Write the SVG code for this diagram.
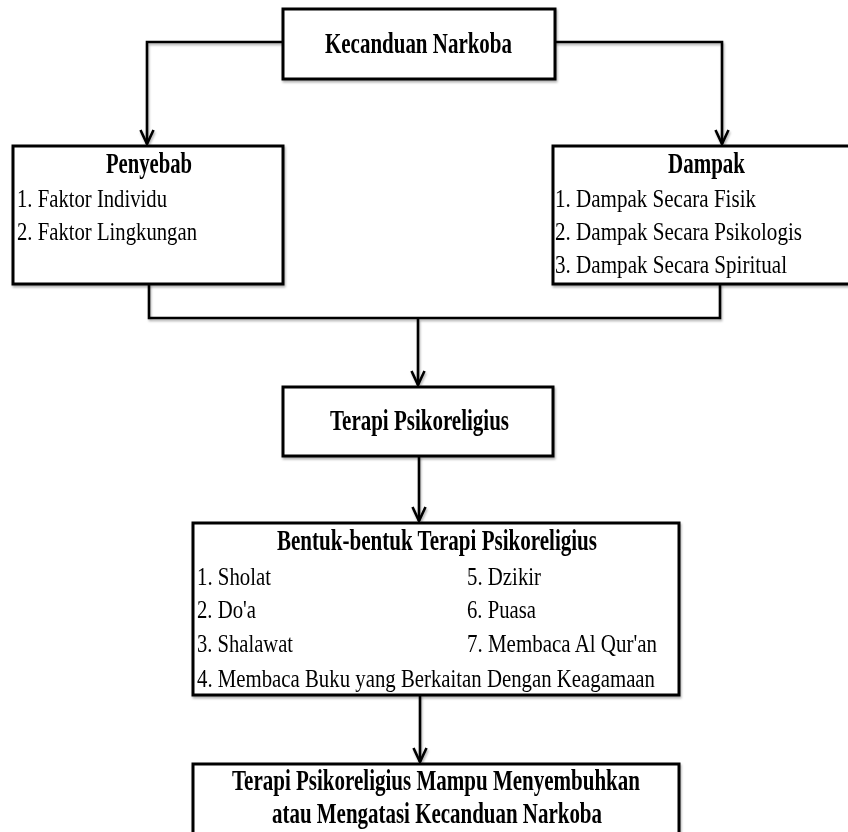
<svg xmlns="http://www.w3.org/2000/svg" width="848" height="832" viewBox="0 0 848 832">
  <style>
    .box { fill: #ffffff; stroke: #000000; stroke-width: 3; }
    .line { fill: none; stroke: #000000; stroke-width: 2.6; }
    .t { font-family: "Liberation Serif", "Times New Roman", serif; font-size: 26px; fill: #000000; }
    .b { font-weight: bold; font-size: 29px; }
  </style>
  <defs>
    <filter id="sh" x="-5%" y="-5%" width="110%" height="120%">
      <feDropShadow dx="1" dy="2" stdDeviation="0.8" flood-color="#000000" flood-opacity="0.3"/>
    </filter>
    <marker id="arr" markerUnits="userSpaceOnUse" viewBox="-16 -10 20 20" refX="0" refY="0" markerWidth="20" markerHeight="20" orient="auto" overflow="visible">
      <path d="M-14,-6.5 L0,0 L-14,6.5" fill="none" stroke="#000000" stroke-width="2.6" stroke-linejoin="miter"/>
    </marker>
  </defs>
  <rect width="848" height="832" fill="#ffffff"/>

  <g id="connectors" filter="url(#sh)">
    <path class="line" d="M283,42 H147 V144" marker-end="url(#arr)"/>
    <path class="line" d="M555,42 H722 V144" marker-end="url(#arr)"/>
    <path class="line" d="M149,284 V318 H720 V284"/>
    <path class="line" d="M418,318 V385" marker-end="url(#arr)"/>
    <path class="line" d="M419,456 V521" marker-end="url(#arr)"/>
    <path class="line" d="M420,695 V762" marker-end="url(#arr)"/>
  </g>

  <g id="node-kecanduan" filter="url(#sh)">
    <rect class="box" x="283" y="9" width="272" height="70"/>
    <text class="t b" x="325" y="53" textLength="187" lengthAdjust="spacingAndGlyphs">Kecanduan Narkoba</text>
  </g>

  <g id="node-penyebab" filter="url(#sh)">
    <rect class="box" x="13" y="146" width="270" height="138"/>
    <text class="t b" x="106" y="173" textLength="86" lengthAdjust="spacingAndGlyphs">Penyebab</text>
    <text class="t" x="17" y="207" textLength="150" lengthAdjust="spacingAndGlyphs">1. Faktor Individu</text>
    <text class="t" x="17" y="240" textLength="180" lengthAdjust="spacingAndGlyphs">2. Faktor Lingkungan</text>
  </g>

  <g id="node-dampak" filter="url(#sh)">
    <rect class="box" x="553" y="146" width="300" height="138"/>
    <text class="t b" x="668" y="173" textLength="77" lengthAdjust="spacingAndGlyphs">Dampak</text>
    <text class="t" x="555" y="207" textLength="201" lengthAdjust="spacingAndGlyphs">1. Dampak Secara Fisik</text>
    <text class="t" x="555" y="240" textLength="247" lengthAdjust="spacingAndGlyphs">2. Dampak Secara Psikologis</text>
    <text class="t" x="555" y="273" textLength="232" lengthAdjust="spacingAndGlyphs">3. Dampak Secara Spiritual</text>
  </g>

  <g id="node-terapi" filter="url(#sh)">
    <rect class="box" x="283" y="387" width="270" height="69"/>
    <text class="t b" x="330" y="430" textLength="179" lengthAdjust="spacingAndGlyphs">Terapi Psikoreligius</text>
  </g>

  <g id="node-bentuk" filter="url(#sh)">
    <rect class="box" x="193" y="523" width="486" height="172"/>
    <text class="t b" x="277" y="550" textLength="320" lengthAdjust="spacingAndGlyphs">Bentuk-bentuk Terapi Psikoreligius</text>
    <text class="t" x="197" y="585" textLength="74" lengthAdjust="spacingAndGlyphs">1. Sholat</text>
    <text class="t" x="197" y="618" textLength="59" lengthAdjust="spacingAndGlyphs">2. Do'a</text>
    <text class="t" x="197" y="652" textLength="96" lengthAdjust="spacingAndGlyphs">3. Shalawat</text>
    <text class="t" x="197" y="687" textLength="458" lengthAdjust="spacingAndGlyphs">4. Membaca Buku yang Berkaitan Dengan Keagamaan</text>
    <text class="t" x="467" y="585" textLength="74" lengthAdjust="spacingAndGlyphs">5. Dzikir</text>
    <text class="t" x="467" y="618" textLength="69" lengthAdjust="spacingAndGlyphs">6. Puasa</text>
    <text class="t" x="467" y="652" textLength="190" lengthAdjust="spacingAndGlyphs">7. Membaca Al Qur'an</text>
  </g>

  <g id="node-hasil" filter="url(#sh)">
    <rect class="box" x="193" y="764" width="486" height="80"/>
    <text class="t b" x="232" y="790" textLength="408" lengthAdjust="spacingAndGlyphs">Terapi Psikoreligius Mampu Menyembuhkan</text>
    <text class="t b" x="272" y="823" textLength="330" lengthAdjust="spacingAndGlyphs">atau Mengatasi Kecanduan Narkoba</text>
  </g>
</svg>
